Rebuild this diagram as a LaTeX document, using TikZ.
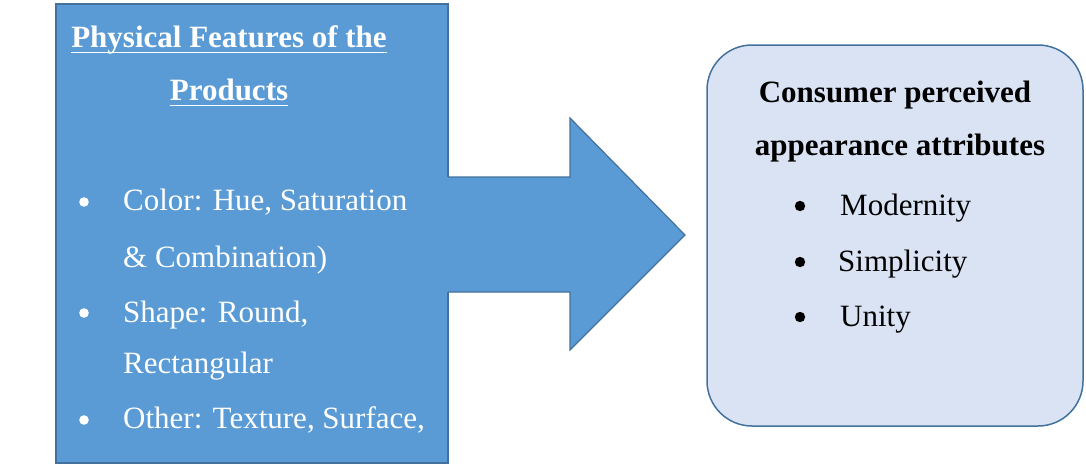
\documentclass[tikz,border=0pt]{standalone}
\usepackage{fontspec}
\setmainfont{Liberation Serif}
\usetikzlibrary{arrows.meta, positioning}

\definecolor{featblue}{HTML}{5B9BD5}
\definecolor{edgeblue}{HTML}{41719C}
\definecolor{paleblue}{HTML}{DAE3F3}

\tikzset{
  bigtext/.style={font=\fontsize{31}{37}\selectfont, inner sep=0pt},
  headtext/.style={bigtext, font=\fontsize{31}{37}\selectfont\bfseries},
}

\begin{document}
\begin{tikzpicture}[>=Stealth, x=1pt, y=-1pt]
\useasboundingbox (0,0) rectangle (1086,464);

% 左侧方框
\begin{scope}[local bounding box=features]
    \draw[edgeblue, fill=featblue, line width=1.2pt] (56,4) rectangle (448,463);

    % 标题
    \node[headtext, white, anchor=base] (phys1) at (229,47) {Physical Features of the};
    \node[headtext, white, anchor=base] (phys2) at (229,100) {Products};
    \draw[white, line width=1.8pt] ([yshift=-5.5pt]phys1.base west) -- ([yshift=-5.5pt]phys1.base east);
    \draw[white, line width=1.8pt] ([yshift=-5.5pt]phys2.base west) -- ([yshift=-5.5pt]phys2.base east);

    % 条目
    \foreach \y in {202, 313, 420}
        \fill[white] (84,\y) circle (4.8);
    \node[bigtext, white, anchor=base west] (color1) at (123,210) {Color: Hue, Saturation};
    \node[bigtext, white, anchor=base west] (color2) at (123,267) {\& Combination)};
    \node[bigtext, white, anchor=base west] (shape1) at (123,322) {Shape: Round,};
    \node[bigtext, white, anchor=base west] (shape2) at (123,373) {Rectangular};
    \node[bigtext, white, anchor=base west] (other) at (123,428) {Other: Texture, Surface,};
\end{scope}

% 箭头
\fill[featblue] (446,177) -- (570,177) -- (570,118) -- (685,235) -- (570,350) -- (570,292) -- (446,292) -- cycle;
\draw[edgeblue, line width=1.2pt] (448,177) -- (570,177) -- (570,118) -- (685,235)
    -- (570,350) -- (570,292) -- (448,292);

% 右侧圆角框
\begin{scope}[local bounding box=percept]
    \draw[edgeblue, fill=paleblue, line width=1.5pt, rounded corners=45pt] (707,45) rectangle (1083,426);

    % 标题
    \node[headtext, anchor=base] (cons1) at (895,102) {Consumer perceived};
    \node[headtext, anchor=base] (cons2) at (900,155) {appearance attributes};

    % 条目
    \foreach \y in {206, 262, 317}
        \fill[black] (800,\y) circle (5.2);
    \node[bigtext, anchor=base west] (modern) at (840,215) {Modernity};
    \node[bigtext, anchor=base west] (simple) at (838,271) {Simplicity};
    \node[bigtext, anchor=base west] (unity) at (840,326) {Unity};
\end{scope}

\end{tikzpicture}
\end{document}
